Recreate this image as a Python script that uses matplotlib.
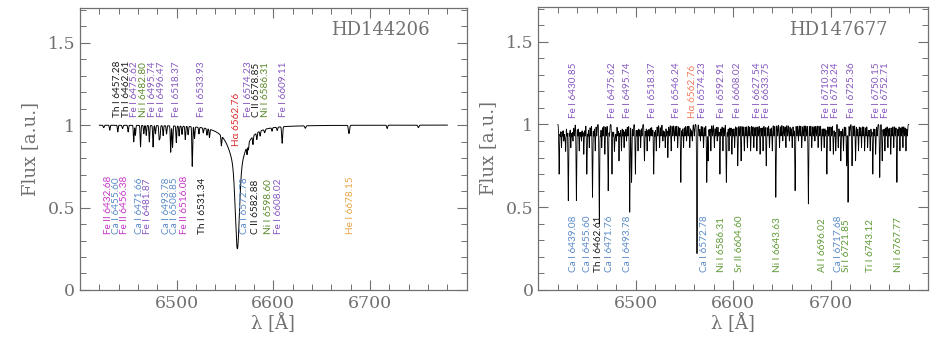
"""Two-panel stellar spectrum around H-alpha with line identifications."""

import numpy as np
import matplotlib.pyplot as plt
from matplotlib.ticker import MultipleLocator

# ---------------------------------------------------------------- data
WAVE_LO, WAVE_HI = 6420.0, 6780.0

# HD144206: (centre [A], depth, sigma [A])
left_lines = [
    (6430.8, 0.03, 0.4), (6439.1, 0.04, 0.4), (6449.8, 0.04, 0.4),
    (6455.6, 0.10, 0.4), (6457.3, 0.06, 0.4), (6462.6, 0.13, 0.4),
    (6471.7, 0.10, 0.4), (6475.6, 0.13, 0.4), (6481.9, 0.08, 0.4),
    (6482.8, 0.07, 0.4), (6493.8, 0.16, 0.4), (6495.7, 0.13, 0.4),
    (6499.6, 0.10, 0.4), (6508.9, 0.08, 0.4), (6516.1, 0.24, 0.4),
    (6518.4, 0.07, 0.4), (6531.3, 0.04, 0.4), (6533.9, 0.05, 0.4),
    (6546.2, 0.06, 0.4), (6572.8, 0.05, 0.4), (6574.2, 0.04, 0.4),
    (6578.9, 0.05, 0.4), (6582.9, 0.04, 0.4), (6586.3, 0.03, 0.4),
    (6598.6, 0.02, 0.4), (6609.1, 0.10, 0.5), (6678.2, 0.05, 0.6),
    (6424.5, 0.015, 0.5), (6444.0, 0.02, 0.5), (6466.0, 0.05, 0.4),
    (6468.5, 0.06, 0.4), (6478.0, 0.05, 0.4), (6486.0, 0.06, 0.4),
    (6489.5, 0.05, 0.4), (6502.5, 0.06, 0.4), (6505.5, 0.05, 0.4),
    (6511.8, 0.05, 0.4), (6523.0, 0.04, 0.4), (6527.5, 0.03, 0.4),
    (6591.0, 0.02, 0.5), (6604.0, 0.02, 0.5), (6633.0, 0.015, 0.6),
    (6717.7, 0.02, 0.5), (6750.0, 0.015, 0.6),
]
left_halpha = (6562.76, 0.46, 2.0, 0.29, 9.0)  # centre, core depth, core sigma, wing depth, wing gamma

# HD147677: strong lines
right_lines = [
    (6421.4, 0.30), (6430.8, 0.46), (6439.1, 0.46), (6449.8, 0.30),
    (6455.6, 0.44), (6462.6, 0.60), (6471.7, 0.40), (6475.6, 0.30),
    (6482.8, 0.22), (6493.8, 0.53), (6495.7, 0.35), (6499.6, 0.30),
    (6508.9, 0.22), (6518.4, 0.30), (6532.9, 0.20), (6546.2, 0.35),
    (6562.8, 0.78), (6572.8, 0.35), (6574.2, 0.22), (6586.3, 0.30),
    (6592.9, 0.35), (6604.6, 0.25), (6608.0, 0.22), (6627.5, 0.18),
    (6633.8, 0.25), (6643.6, 0.44), (6663.4, 0.40), (6677.0, 0.48),
    (6696.0, 0.30), (6710.3, 0.22), (6716.2, 0.25), (6717.7, 0.47),
    (6721.8, 0.25), (6725.4, 0.22), (6743.1, 0.30), (6750.2, 0.32),
    (6752.7, 0.22), (6767.8, 0.35),
]
# HD147677: weak blends
right_weak = [
    (6423.8, 0.14), (6426.2, 0.10), (6428.1, 0.16), (6433.4, 0.14),
    (6435.6, 0.10), (6442.0, 0.16), (6444.3, 0.10), (6446.7, 0.18),
    (6452.3, 0.14), (6458.4, 0.16), (6465.1, 0.14), (6468.3, 0.18),
    (6478.1, 0.16), (6480.0, 0.10), (6485.3, 0.16), (6488.0, 0.14),
    (6490.5, 0.10), (6502.3, 0.16), (6505.0, 0.14), (6511.6, 0.16),
    (6514.2, 0.10), (6521.0, 0.16), (6524.4, 0.14), (6527.8, 0.10),
    (6530.2, 0.14), (6536.3, 0.16), (6539.7, 0.10), (6543.0, 0.14),
    (6549.0, 0.14), (6552.1, 0.10), (6555.4, 0.14), (6558.0, 0.10),
    (6566.3, 0.10), (6569.5, 0.14), (6577.0, 0.16), (6580.6, 0.14),
    (6583.5, 0.10), (6589.4, 0.16), (6595.6, 0.16), (6598.6, 0.18),
    (6601.4, 0.14), (6611.3, 0.16), (6614.5, 0.14), (6617.8, 0.16),
    (6621.1, 0.14), (6624.2, 0.16), (6630.5, 0.16), (6637.1, 0.14),
    (6640.0, 0.16), (6647.4, 0.14), (6650.8, 0.10), (6654.0, 0.14),
    (6657.5, 0.10), (6660.4, 0.14), (6666.8, 0.10), (6670.2, 0.14),
    (6673.5, 0.10), (6680.5, 0.14), (6683.7, 0.10), (6687.0, 0.14),
    (6690.4, 0.16), (6693.2, 0.14), (6699.3, 0.16), (6702.6, 0.18),
    (6705.1, 0.16), (6707.6, 0.14), (6713.0, 0.16), (6728.4, 0.16),
    (6731.5, 0.14), (6734.7, 0.16), (6737.8, 0.14), (6740.4, 0.16),
    (6746.0, 0.18), (6755.5, 0.16), (6758.6, 0.14), (6761.5, 0.18),
    (6764.6, 0.14), (6770.9, 0.16), (6774.0, 0.14), (6777.1, 0.16),
]
# HD147677: faint blends filling the pseudo-continuum
right_faint = [
    6422.6, 6425.0, 6427.2, 6429.5, 6432.1, 6434.5, 6437.0, 6440.6,
    6443.2, 6445.5, 6448.0, 6451.0, 6453.8, 6457.0, 6460.0, 6463.8,
    6466.6, 6469.9, 6473.0, 6476.9, 6479.0, 6481.5, 6484.0, 6486.7,
    6489.2, 6492.0, 6497.2, 6501.0, 6503.7, 6506.4, 6510.2, 6512.9,
    6515.6, 6517.0, 6519.7, 6522.6, 6525.9, 6529.0, 6531.6, 6534.5,
    6538.0, 6541.3, 6544.6, 6547.6, 6550.5, 6553.7, 6556.8, 6560.0,
    6565.0, 6567.9, 6571.0, 6575.6, 6578.8, 6582.0, 6585.0, 6587.8,
    6590.9, 6594.2, 6597.1, 6600.0, 6603.0, 6606.3, 6609.7, 6612.9,
    6616.2, 6619.5, 6622.6, 6625.8, 6629.0, 6632.2, 6635.4, 6638.5,
    6641.8, 6645.5, 6649.0, 6652.4, 6655.8, 6659.0, 6662.0, 6665.2,
    6668.5, 6671.8, 6675.2, 6678.8, 6682.1, 6685.3, 6688.7, 6691.8,
    6694.6, 6697.7, 6700.9, 6703.9, 6709.0, 6711.6, 6714.6, 6719.5,
    6723.6, 6727.0, 6730.0, 6733.1, 6736.2, 6739.1, 6741.8, 6744.6,
    6747.6, 6754.1, 6757.0, 6760.0, 6763.0, 6766.2, 6769.3, 6772.4,
    6775.6, 6778.5,
]
RIGHT_FAINT_DEPTH = 0.07

# label text, colour key, x position [A]
left_top = [
    ("Th I 6457.28", "th", 6439.0), ("Th I 6462.61", "th", 6447.8),
    ("Fe I 6475.62", "fe", 6456.6), ("Ni I 6482.80", "ni", 6465.4),
    ("Fe I 6495.74", "fe", 6475.1), ("Fe I 6496.47", "fe", 6484.3),
    ("Fe I 6518.37", "fe", 6499.7), ("Fe I 6533.93", "fe", 6525.4),
    ("Fe I 6574.23", "fe", 6574.6), ("C II 6578.85", "th", 6583.0),
    ("Ni I 6586.31", "ni", 6591.4), ("Fe I 6609.11", "fe", 6610.8),
]
left_bottom = [
    ("Fe II 6432.68", "fe2", 6429.8), ("Ca I 6455.60", "ca", 6437.9),
    ("Fe II 6456.38", "fe2", 6446.0), ("Ca I 6471.66", "ca", 6461.7),
    ("Fe I 6481.87", "fe", 6470.0), ("Ca I 6493.78", "ca", 6489.0),
    ("Ca I 6508.85", "ca", 6497.7), ("Fe II 6516.08", "fe2", 6508.0),
    ("Th I 6531.34", "th", 6526.5), ("Ca I 6572.78", "ca", 6569.7),
    ("C II 6582.88", "th", 6582.0), ("Ni I 6598.60", "ni", 6595.4),
    ("Fe I 6608.02", "fe", 6605.7), ("He I 6678.15", "he", 6679.7),
]
right_top = [
    ("Fe I 6430.85", "fe", 6435.7), ("Fe I 6475.62", "fe", 6476.5),
    ("Fe I 6495.74", "fe", 6491.8), ("Fe I 6518.37", "fe", 6517.3),
    ("Fe I 6546.24", "fe", 6541.8), ("Fe I 6574.23", "fe", 6568.4),
    ("Fe I 6592.91", "fe", 6588.0), ("Fe I 6608.02", "fe", 6604.0),
    ("Fe I 6627.54", "fe", 6624.5), ("Fe I 6633.75", "fe", 6633.7),
    ("Fe I 6710.32", "fe", 6696.0), ("Fe I 6716.24", "fe", 6705.0),
    ("Fe I 6725.36", "fe", 6721.4), ("Fe I 6750.15", "fe", 6747.0),
    ("Fe I 6752.71", "fe", 6756.0),
]
right_bottom = [
    ("Ca I 6439.08", "ca", 6435.7), ("Ca I 6455.60", "ca", 6450.0),
    ("Th I 6462.61", "th", 6462.0), ("Ca I 6471.76", "ca", 6473.5),
    ("Ca I 6493.78", "ca", 6491.8), ("Ca I 6572.78", "ca", 6570.4),
    ("Ni I 6586.31", "ni2", 6588.0), ("Sr II 6604.60", "ni2", 6606.0),
    ("Ni I 6643.63", "ni2", 6645.0), ("Al I 6696.02", "ni2", 6691.0),
    ("Ca I 6717.68", "ca", 6707.5), ("Si I 6721.85", "ni2", 6716.0),
    ("Ti I 6743.12", "ni2", 6741.0), ("Ni I 6767.77", "ni2", 6769.0),
]

COLORS = {
    "th": "#1a1a1a", "fe": "#8658c0", "fe2": "#c636c8", "ni": "#5b8a2c",
    "ni2": "#5f9a36", "ca": "#5a8ac8", "he": "#e8a448",
    "ha_left": "#e02828", "ha_right": "#f07a5a",
}
GREY = "#707070"
LABEL_FONT = ["Lato", "DejaVu Sans"]
LABEL_SIZE = 7.2


def gauss(w, c, d, s):
    return d * np.exp(-0.5 * ((w - c) / s) ** 2)


def build_left(w):
    flux = np.ones_like(w)
    for c, d, s in left_lines:
        flux -= gauss(w, c, d, s)
    c, d1, s1, d2, g = left_halpha
    flux -= gauss(w, c, d1, s1)
    flux -= d2 / (1 + ((w - c) / g) ** 2)
    return flux


def build_right(w):
    flux = np.full_like(w, 1.0)
    for c, d in right_lines:
        flux -= gauss(w, c, d, 0.35)
    for c, d in right_weak:
        flux -= gauss(w, c, d, 0.35)
    for c in right_faint:
        flux -= gauss(w, c, RIGHT_FAINT_DEPTH, 0.35)
    return flux


def style_axes(ax, title, title_x):
    ax.set_xlim(6400, 6800)
    ax.set_ylim(0, 1.71)
    ax.xaxis.set_major_locator(MultipleLocator(100))
    ax.xaxis.set_minor_locator(MultipleLocator(20))
    ax.yaxis.set_major_locator(MultipleLocator(0.5))
    ax.yaxis.set_minor_locator(MultipleLocator(0.1))
    ax.set_xticks([6500, 6600, 6700])
    ax.set_yticks([0, 0.5, 1, 1.5])
    ax.set_yticklabels(["0", "0.5", "1", "1.5"])
    ax.tick_params(which="both", direction="in", top=True, right=True,
                   colors=GREY, labelcolor=GREY)
    ax.tick_params(which="major", length=7, width=0.8, labelsize=12.5)
    ax.tick_params(which="minor", length=4, width=0.7)
    for lab in ax.get_xticklabels() + ax.get_yticklabels():
        lab.set_family("DejaVu Serif")
    for sp in ax.spines.values():
        sp.set_color(GREY)
        sp.set_linewidth(0.9)
    ax.set_xlabel("λ [Å]", family="DejaVu Serif", color=GREY, fontsize=13,
                  labelpad=1)
    ax.set_ylabel("Flux [a.u.]", family="DejaVu Serif", color=GREY,
                  fontsize=13, labelpad=6)
    ax.text(title_x, 0.92, title, transform=ax.transAxes, ha="right",
            va="center", family="DejaVu Serif", color=GREY, fontsize=13)


def put_labels(ax, labels, y, va):
    for text, key, x in labels:
        ax.text(x, y, text, rotation=90, ha="center", va=va, color=COLORS[key],
                family=LABEL_FONT, fontsize=LABEL_SIZE)


fig = plt.figure(figsize=(9.41, 3.44), dpi=100)
ax1 = fig.add_axes([0.085, 0.157, 0.411, 0.820])
ax2 = fig.add_axes([0.572, 0.157, 0.4145, 0.823])

wave = np.arange(WAVE_LO, WAVE_HI, 0.05)

ax1.plot(wave, build_left(wave), color="black", lw=0.7)
style_axes(ax1, "HD144206", 0.905)
put_labels(ax1, left_top, 1.05, "bottom")
put_labels(ax1, left_bottom, 0.34, "bottom")
ax1.text(6561.4, 0.87, "Hα 6562.76", rotation=90, ha="center", va="bottom",
         color=COLORS["ha_left"], family=LABEL_FONT, fontsize=LABEL_SIZE)

ax2.plot(wave, build_right(wave), color="black", lw=0.6)
style_axes(ax2, "HD147677", 0.895)
put_labels(ax2, right_top, 1.04, "bottom")
put_labels(ax2, right_bottom, 0.11, "bottom")
ax2.text(6558.2, 1.04, "Hα 6562.76", rotation=90, ha="center", va="bottom",
         color=COLORS["ha_right"], family=LABEL_FONT, fontsize=LABEL_SIZE)

fig.savefig("out.png", dpi=100)
